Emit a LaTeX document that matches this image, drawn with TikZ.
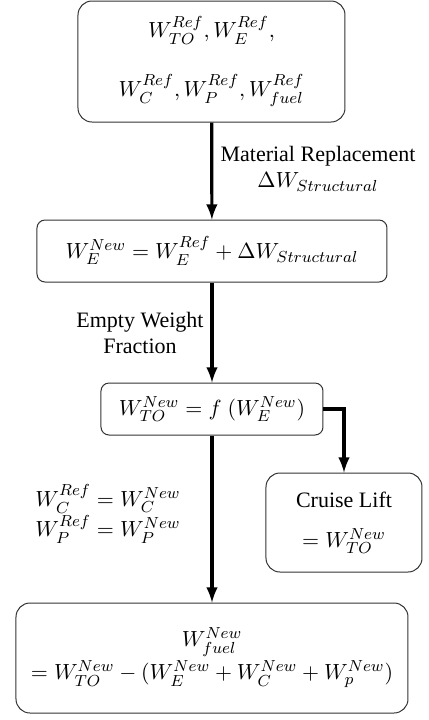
\documentclass[tikz,border=0pt]{standalone}
\usepackage{amsmath}
\usepackage{fontspec}
\setmainfont{Liberation Serif}
\newfontfamily\labelfont{Liberation Serif}
\usetikzlibrary{arrows}

\begin{document}
\begin{tikzpicture}
    [x=0.5pt,y=-0.5pt,font=\labelfont\fontsize{11}{13}\selectfont]
    \tikzstyle{stage}=[draw=black!80, line width=0.5pt, rounded corners=7pt, align=center, inner sep=0pt]
    \tikzstyle{flow}=[draw, line width=1.6pt, -latex]
    \useasboundingbox (0,0) rectangle (429,720);
    \node[stage, minimum width=133.5pt, minimum height=60.5pt] (REF) at (211.5,61.5)
      {$W_{TO}^{Ref}, W_{E}^{Ref},$\\[14pt] $W_{C}^{Ref}, W_{P}^{Ref}, W_{fuel}^{Ref}$};
    \node[stage, rounded corners=4pt, minimum width=175pt, minimum height=31pt] (EMPTY) at (212,251)
      {$W_{E}^{New} = W_{E}^{Ref} + \Delta W_{Structural}$};
    \node[stage, rounded corners=4pt, minimum width=111pt, minimum height=26pt] (TAKEOFF) at (212,409)
      {$W_{TO}^{New} = f\;(W_{E}^{New})$};
    \node[stage, minimum width=78pt, minimum height=49.5pt] (CRUISE) at (344,522.5)
      {Cruise Lift\\[7pt] $= W_{TO}^{New}$};
    \node[stage, minimum width=196pt, minimum height=55pt] (FUEL) at (212,658)
      {$W_{fuel}^{New}$\\[1pt] $= W_{TO}^{New} - (W_{E}^{New} + W_{C}^{New} + W_{p}^{New})$};
    \draw[flow] (REF) -- (EMPTY);
    \draw[flow] (EMPTY) -- (TAKEOFF);
    \draw[flow] (TAKEOFF) -- (FUEL);
    \draw[flow] (TAKEOFF.east) -| (CRUISE.north);
    \draw (318,169) node[align=center] (MATLBL) {Material Replacement\\ $\Delta W_{Structural}$};
    \draw (140,333) node[align=center] (EWFLBL) {Empty Weight\\Fraction};
    \draw (108,514) node[align=left] (SAMELBL) {$W_{C}^{Ref} = W_{C}^{New}$\\ $W_{P}^{Ref} = W_{P}^{New}$};
\end{tikzpicture}
\end{document}
